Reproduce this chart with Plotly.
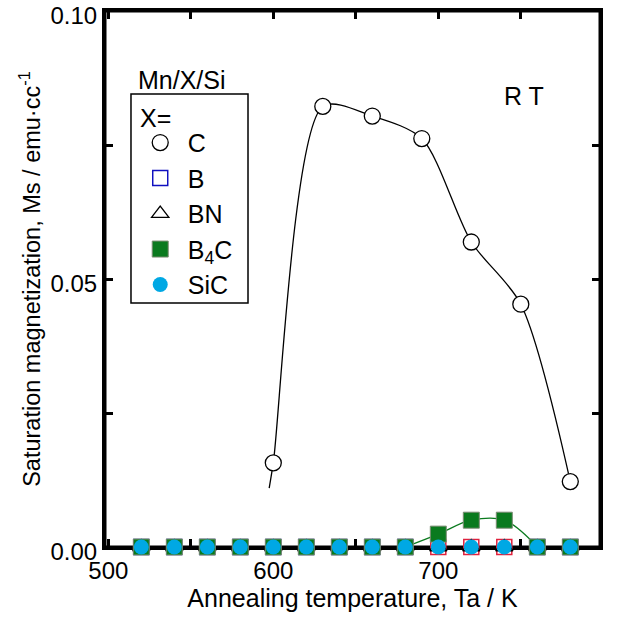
import plotly.graph_objects as go

# Annealing temperatures shared by the series measured down to the baseline
T = [520, 540, 560, 580, 600, 620, 640, 660, 680, 700, 720, 740, 760, 780]

# X = C : the only series with a large moment
C_T = [600, 630, 660, 690, 720, 750, 780]
C_Ms = [0.0157, 0.0822, 0.0804, 0.0762, 0.0569, 0.0453, 0.0122]
# leading point of the hand-drawn guide curve below the first C sample
C_curve_lead_T = [597.5]
C_curve_lead_Ms = [0.0110]

B_Ms = [0.0] * 14
BN_Ms = [0.0] * 14
B4C_Ms = [0, 0, 0, 0, 0, 0, 0, 0, 0, 0.0024, 0.0050, 0.0050, 0, 0]
SiC_Ms = [0.0] * 14

FONT = "Liberation Sans, Arial, sans-serif"
GREEN = "#0A7A1E"
CYAN = "#00A8E4"

fig = go.Figure()

# guide curve for X = C
fig.add_trace(go.Scatter(
    x=C_curve_lead_T + C_T, y=C_curve_lead_Ms + C_Ms,
    mode="lines", line=dict(color="black", width=1.3, shape="spline", smoothing=0.8),
    showlegend=False, hoverinfo="skip", cliponaxis=False,
))
fig.add_trace(go.Scatter(
    x=C_T, y=C_Ms, mode="markers", name="C", legendgroup="C",
    marker=dict(symbol="circle", size=16, color="white", line=dict(color="black", width=1.3)),
    cliponaxis=False,
))

# X = B : outline shows where it is not covered by the B4C squares
B_edge = ["#1010C0"] * 14
for i, v in enumerate(B4C_Ms):
    if v > 0:
        B_edge[i] = "#E0203C"
fig.add_trace(go.Scatter(
    x=T, y=B_Ms, mode="markers", name="B", legendgroup="B",
    marker=dict(symbol="square", size=15, color="white", line=dict(color=B_edge, width=1.5)),
    cliponaxis=False,
))
fig.add_trace(go.Scatter(
    x=T, y=BN_Ms, mode="markers", name="BN", legendgroup="BN",
    marker=dict(symbol="triangle-up", size=15, color="white", line=dict(color="black", width=1.3)),
    cliponaxis=False,
))

# guide curve for X = B4C over the range where it departs from zero
i0, i1 = T.index(680), T.index(760)
fig.add_trace(go.Scatter(
    x=T[i0:i1 + 1], y=B4C_Ms[i0:i1 + 1],
    mode="lines", line=dict(color=GREEN, width=1.3, shape="spline", smoothing=1.0),
    showlegend=False, hoverinfo="skip", cliponaxis=False,
))
fig.add_trace(go.Scatter(
    x=T, y=B4C_Ms, mode="markers", name="B<sub>4</sub>C", legendgroup="B4C",
    marker=dict(symbol="square", size=16, color=GREEN, line=dict(color="#7C8C74", width=1)),
    cliponaxis=False,
))
fig.add_trace(go.Scatter(
    x=T, y=SiC_Ms, mode="markers", name="SiC", legendgroup="SiC",
    marker=dict(symbol="circle", size=15, color=CYAN, line=dict(width=0)),
    cliponaxis=False,
))

tick_style = dict(ticks="inside", ticklen=8, tickwidth=2.5, tickcolor="black")
axis_common = dict(
    showline=True, linecolor="black", linewidth=3, mirror="ticks",
    showgrid=False, zeroline=False, layer="below traces", automargin=False,
    ticklabeloverflow="allow",
    tickfont=dict(family=FONT, size=24, color="black"),
    **tick_style,
)

fig.update_layout(
    width=631, height=625,
    margin=dict(l=105, r=31, t=11, b=78),
    paper_bgcolor="white", plot_bgcolor="white",
    font=dict(family=FONT, color="black"),
    xaxis=dict(
        range=[498, 798], tickvals=[500, 600, 700, 800],
        minor=dict(tickvals=[550, 650, 750], **tick_style),
        title=dict(text="Annealing temperature, Ta / K", font=dict(family=FONT, size=25), standoff=6),
        **axis_common,
    ),
    yaxis=dict(
        range=[0, 0.1], tickvals=[0.0, 0.05, 0.10], tickformat=".2f",
        ticklabelshift=5,
        minor=dict(tickvals=[0.025, 0.075], **tick_style),
        title=dict(text="Saturation magnetization, Ms / emu·cc<sup>-1</sup>",
                   font=dict(family=FONT, size=23.5), standoff=4),
        **axis_common,
    ),
    legend=dict(
        x=0.056, y=0.797, xanchor="left", yanchor="top",
        borderwidth=0, bgcolor="rgba(0,0,0,0)",
        font=dict(family=FONT, size=25),
        tracegroupgap=0, itemwidth=45,
    ),
    shapes=[
        # plot frame drawn beneath the markers so the baseline points sit on top of it
        dict(type="rect", xref="paper", yref="paper", x0=0, y0=0, x1=1, y1=1,
             line=dict(color="black", width=3), layer="below"),
        # box around the legend
        dict(type="rect", xref="paper", yref="paper", x0=0.0525, y0=0.4552, x1=0.2889, y1=0.8451,
             line=dict(color="black", width=1.5), fillcolor="rgba(0,0,0,0)", layer="above"),
    ],
    annotations=[
        dict(text="Mn/X/Si", x=0.063, y=0.871, xref="paper", yref="paper",
             xanchor="left", yanchor="middle", showarrow=False,
             font=dict(family=FONT, size=25)),
        dict(text="X=", x=0.066, y=0.80, xref="paper", yref="paper",
             xanchor="left", yanchor="middle", showarrow=False,
             font=dict(family=FONT, size=25)),
        dict(text="R T", x=0.846, y=0.841, xref="paper", yref="paper",
             xanchor="center", yanchor="middle", showarrow=False,
             font=dict(family=FONT, size=25)),
    ],
)

fig.write_html("out.html")
